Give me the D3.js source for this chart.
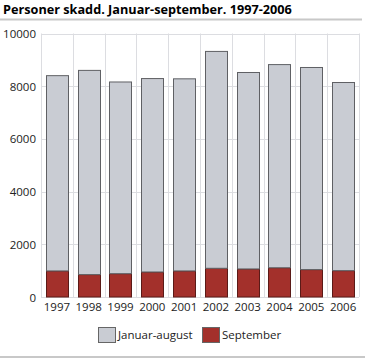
<!DOCTYPE html>
<html><head><meta charset="utf-8">
<script src="https://cdn.jsdelivr.net/npm/d3@7"></script>
<style>body{margin:0;background:#fff;} svg{display:block;font-family:"Open Sans",sans-serif;}</style>
</head><body>
<script>
const years = ["1997","1998","1999","2000","2001","2002","2003","2004","2005","2006"];
const totals = [8400, 8600, 8160, 8290, 8280, 9320, 8520, 8820, 8710, 8140];
const september = [990, 850, 885, 950, 990, 1090, 1065, 1110, 1040, 1000];
const januarAugust = totals.map((t,i)=>t-september[i]);
const seriesNames = ["Januar-august","September"];
const yTicks = [0,2000,4000,6000,8000,10000];
const colors = {"Januar-august":"#c9ccd3","September":"#a3302b"};

const W=365,H=358;
const svg=d3.select("body").append("svg").attr("width",W).attr("height",H);
const m={l:41,r:6,t:33.5,b:61};
const x=d3.scaleBand().domain(years).range([m.l,W-m.r]).paddingInner(0.3).paddingOuter(0.15);
const y=d3.scaleLinear().domain([0,10000]).range([H-m.b,m.t]);

// title
svg.append("text").attr("x",3).attr("y",14).attr("font-size",12.7).attr("font-weight","bold").attr("fill","#000").text("Personer skadd. Januar-september. 1997-2006");
svg.append("line").attr("x1",0).attr("x2",362).attr("y1",19.5).attr("y2",19.5).attr("stroke","#c8c8c8").attr("stroke-width",2);
svg.append("line").attr("x1",0).attr("x2",365).attr("y1",357).attr("y2",357).attr("stroke","#c8c8c8").attr("stroke-width",2);

// grid
const g=svg.append("g");
g.selectAll(".hg").data(yTicks).join("line").attr("x1",m.l).attr("x2",W-m.r).attr("y1",d=>Math.round(y(d))+0.5).attr("y2",d=>Math.round(y(d))+0.5).attr("stroke","#dcdde1");
const bounds=d3.range(years.length+1).map(i=>m.l+i*(W-m.r-m.l)/years.length);
g.selectAll(".vg").data(bounds).join("line").attr("x1",d=>Math.round(d)+0.5).attr("x2",d=>Math.round(d)+0.5).attr("y1",y(10000)).attr("y2",y(0)).attr("stroke","#dcdde1");

// y axis labels
svg.append("g").selectAll("text").data(yTicks).join("text").attr("x",36).attr("y",d=>y(d)+4.5).attr("text-anchor","end").attr("font-size",11.5).attr("fill","#222").text(d=>d);
// x labels
svg.append("g").selectAll("text").data(years).join("text").attr("x",d=>x(d)+x.bandwidth()/2).attr("y",311).attr("text-anchor","middle").attr("font-size",11.5).attr("fill","#222").text(d=>d);

// stacked bars
const data=years.map((yr,i)=>({year:yr,"September":september[i],"Januar-august":januarAugust[i]}));
const stack=d3.stack().keys(["September","Januar-august"])(data);
svg.append("g").selectAll("g").data(stack).join("g").attr("fill",s=>colors[s.key]).attr("stroke",s=>s.key==="September"?"#5a1a17":"#5f6064").attr("stroke-width",1)
  .selectAll("rect").data(s=>s).join("rect")
  .attr("x",d=>Math.round(x(d.data.year))+0.5).attr("width",Math.round(x.bandwidth()))
  .attr("y",d=>y(d[1])).attr("height",d=>y(d[0])-y(d[1]));

// legend
const leg=svg.append("g");
const items=[{k:"Januar-august",x:98},{k:"September",x:202}];
items.forEach(it=>{
  leg.append("rect").attr("x",it.x+0.5).attr("y",327.5).attr("width",17).attr("height",15).attr("fill",colors[it.k]).attr("stroke","#666");
  leg.append("text").attr("x",it.x+20).attr("y",339).attr("font-size",11.5).attr("fill","#222").text(it.k);
});
</script>
</body></html>
